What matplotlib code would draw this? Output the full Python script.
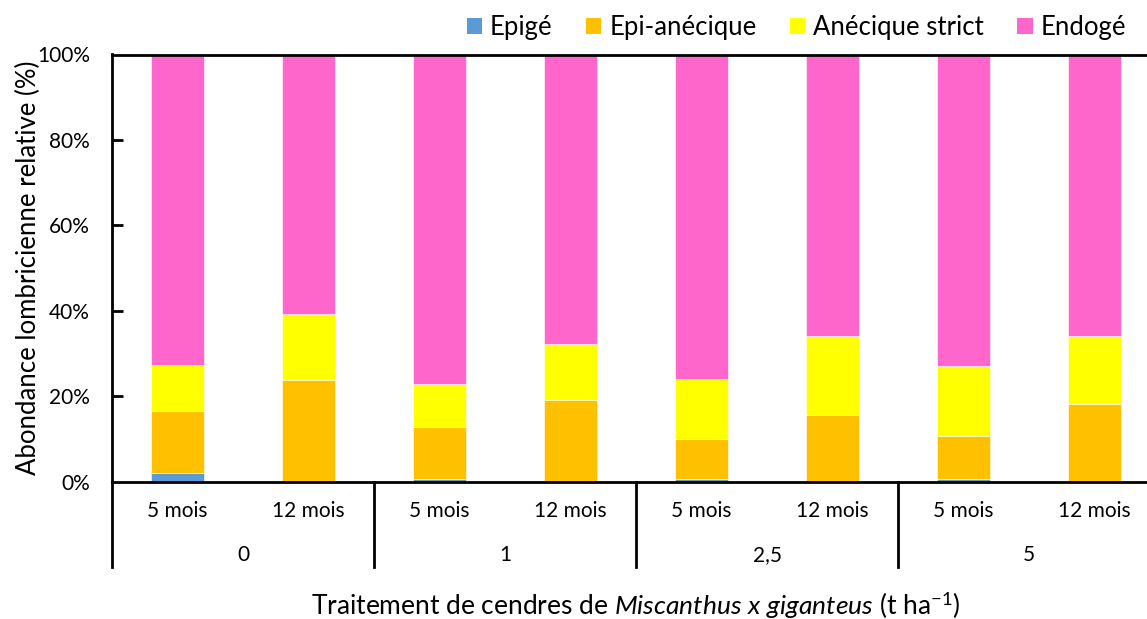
import matplotlib
matplotlib.use("Agg")
import matplotlib.pyplot as plt
import matplotlib.transforms as mtransforms
from matplotlib.patches import Patch
import numpy as np

plt.rcParams['font.family'] = ['Lato', 'DejaVu Sans']
plt.rcParams['mathtext.fontset'] = 'custom'
plt.rcParams['mathtext.rm'] = 'Lato'
plt.rcParams['mathtext.it'] = 'Lato:italic'

durations = ["5 mois", "12 mois", "5 mois", "12 mois", "5 mois", "12 mois", "5 mois", "12 mois"]
groups = ["0", "1", "2,5", "5"]
series_names = ["Epigé", "Epi-anécique", "Anécique strict", "Endogé"]
epige = [1.9, 0.0, 0.7, 0.0, 0.5, 0.0, 0.5, 0.0]
epi_anecique = [14.5, 23.7, 12.0, 19.2, 9.5, 15.6, 10.1, 18.2]
anecique_strict = [10.8, 15.5, 10.1, 13.1, 14.0, 18.5, 16.4, 15.9]
endoge = [100 - a - b - c for a, b, c in zip(epige, epi_anecique, anecique_strict)]
colors = ["#5B9BD5", "#FFC000", "#FFFF00", "#FF66CC"]

fig = plt.figure(figsize=(11.47, 6.19), dpi=100)
ax = fig.add_axes([112/1147, 1 - 481.5/619, 1048/1147, 427/619])

x = np.arange(len(durations))
bottom = np.zeros(len(durations))
for vals, col, name in zip([epige, epi_anecique, anecique_strict, endoge], colors, series_names):
    ax.bar(x, vals, width=0.4, bottom=bottom, color=col, edgecolor='white', linewidth=0.4, label=name)
    bottom += np.array(vals)

ax.set_xlim(-0.5, len(durations) - 0.5)
ax.set_ylim(0, 100)
ax.set_yticks([0, 20, 40, 60, 80, 100])
ax.set_yticklabels([f"{v}%" for v in [0, 20, 40, 60, 80, 100]], fontsize=15)
ax.tick_params(axis='y', direction='in', length=8, width=2, pad=16)
yt = ax.yaxis.get_major_ticks()
yt[0].tick1line.set_visible(False)
yt[-1].tick1line.set_visible(False)
ax.set_xticks([])
for s in ['left', 'bottom', 'top']:
    ax.spines[s].set_linewidth(2)
    ax.spines[s].set_color('black')
ax.spines['right'].set_visible(False)

trans = mtransforms.blended_transform_factory(ax.transData, ax.transAxes)
for i, d in enumerate(durations):
    ax.text(i, -0.068, d, transform=trans, ha='center', va='center', fontsize=15)
for g, name in enumerate(groups):
    ax.text(2 * g + 0.5, -0.172, name, transform=trans, ha='center', va='center', fontsize=15)
for g in range(len(groups) + 1):
    ax.plot([2 * g - 0.5, 2 * g - 0.5], [0, -0.2], transform=trans, color='black',
            linewidth=2, clip_on=False)

ax.text(0.5, -0.29, r"Traitement de cendres de $\mathit{Miscanthus\ x\ giganteus}$ (t ha$^{\mathrm{-1}}$)",
        transform=ax.transAxes, ha='center', va='center', fontsize=19)
ax.set_ylabel("Abondance lombricienne relative (%)", fontsize=18.5, labelpad=10)
ax.yaxis.set_label_coords(-0.068, 0.5)

handles = [Patch(facecolor=c, edgecolor='none') for c in colors]
fig.legend(handles, series_names, loc='upper right', bbox_to_anchor=(1136/1147, 1 - 5/619),
           ncol=4, frameon=False, fontsize=18.5, handlelength=0.6, handleheight=0.6,
           handletextpad=0.3, columnspacing=1.3, borderaxespad=0)

fig.savefig("out.png", dpi=100)
